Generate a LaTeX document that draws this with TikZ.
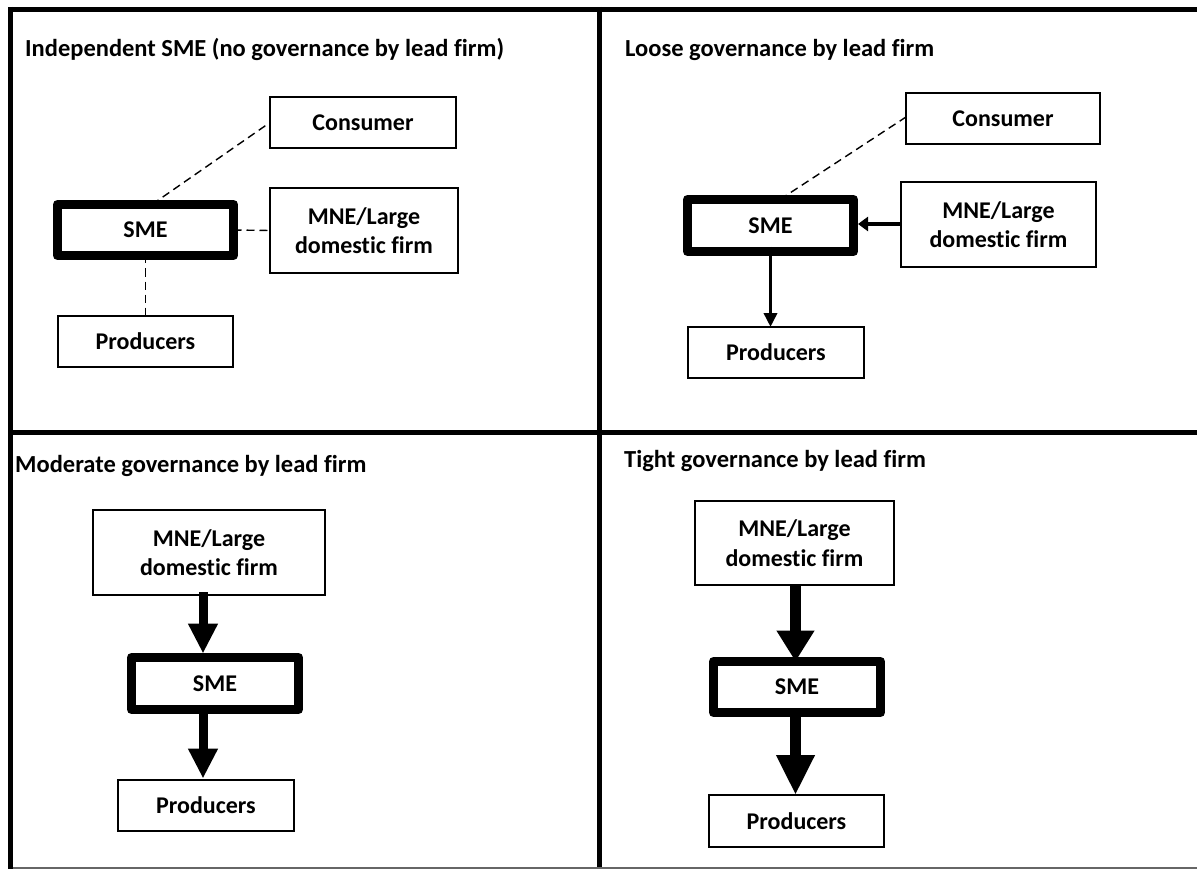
\documentclass[tikz,border=0pt]{standalone}
\usepackage{fontspec}
\setmainfont{Carlito}[Ligatures={NoCommon,NoDiscretionary,NoContextual}]
\usetikzlibrary{arrows.meta}
\begin{document}
\begin{tikzpicture}[x=1pt,y=-1pt,
  txt/.style={font=\fontsize{24}{29.5}\selectfont\bfseries},
  box/.style={txt, draw, line width=1.3pt, inner sep=0pt, outer sep=0pt, align=center},
  smebox/.style={txt, draw, line width=9pt, line join=round, inner sep=0pt, outer sep=0pt, minimum height=51pt},
  title/.style={anchor=base west, inner sep=0pt, font=\fontsize{24.5}{29.5}\selectfont\bfseries},
  framel/.style={line width=5pt},
  dashlink/.style={line width=1.4pt, dash pattern=on 8pt off 5pt},
  thinarrow/.style={line width=3.8pt},
  fatarrow/.style={line width=#1}
]
\useasboundingbox (0,0) rectangle (1197,869);
% frame
\draw[framel] (8,9.5) -- (1197,9.5);
\draw[framel] (10.5,7) -- (10.5,869);
\draw[framel] (10.5,432.5) -- (1197,432.5);
\draw[framel] (599.5,7) -- (599.5,869);
\draw[line width=1.5pt, black!60] (13,868.2) -- (1197,868.2);

% titles
\node[title] (t1) at (25,57) {Independent SME (no governance by lead firm)};
\node[title] (t2) at (625,57) {Loose governance by lead firm};
\node[title] (t3) at (15,472) {Moderate governance by lead firm};
\node[title] (t4) at (624,467.5) {Tight governance by lead firm};

% panel 1
\node[box, minimum width=186pt, minimum height=51pt] (cons1) at (363,122.5) {Consumer};
\node[box, minimum width=188pt, minimum height=85pt] (mne1) at (364,230.5) {MNE/Large\\domestic firm};
\node[smebox, minimum width=176pt] (sme1) at (145.5,230) {SME};
\node[box, minimum width=175pt, minimum height=51pt] (prod1) at (145.5,341.5) {Producers};
\draw[dashlink] ([xshift=6.5pt]sme1.north) -- (cons1.west);
\draw[dashlink] (sme1.east) -- (mne1.west);
\draw[dashlink] (sme1.south) -- (prod1.north);

% panel 2
\node[box, minimum width=194pt, minimum height=51pt] (cons2) at (1003,118.5) {Consumer};
\node[box, minimum width=195pt, minimum height=85pt] (mne2) at (998.5,224.5) {MNE/Large\\domestic firm};
\node[smebox, minimum width=166pt, minimum height=52pt] (sme2) at (770.5,225.5) {SME};
\node[box, minimum width=176pt, minimum height=51pt] (prod2) at (776,352.5) {Producers};
\draw[dashlink] ([xshift=9.5pt]sme2.north) -- ([yshift=1.5pt]cons2.west);
\draw[thinarrow, -{Triangle[length=10pt,width=14pt]}] (mne2.west |- 0,224) -- ([xshift=4.5pt]sme2.east |- 0,224);
\draw[thinarrow, -{Triangle[length=14pt,width=13pt]}] ([yshift=4.5pt]sme2.south) -- (sme2.south |- prod2.north);

% panel 3
\coordinate (ax3) at (203,0);
\node[box, minimum width=232pt, minimum height=85pt] (mne3) at (209,552.5) {MNE/Large\\domestic firm};
\node[smebox, minimum width=167pt, minimum height=52pt] (sme3) at (215,683.5) {SME};
\node[box, minimum width=176pt, minimum height=51pt] (prod3) at (206,805.5) {Producers};
\draw[fatarrow=9pt, -{Triangle[length=30pt,width=28pt]}] ([yshift=3pt]mne3.south -| ax3) -- ([yshift=4pt]sme3.north -| ax3);
\draw[fatarrow=9pt, -{Triangle[length=30pt,width=28pt]}] ([yshift=4.5pt]sme3.south -| ax3) -- ([yshift=1.5pt]prod3.north -| ax3);

% panel 4
\coordinate (ax4) at (795.5,0);
\node[box, minimum width=199pt, minimum height=84pt] (mne4) at (794.5,543) {MNE/Large\\domestic firm};
\node[smebox, minimum width=167pt, minimum height=51pt] (sme4) at (797,687) {SME};
\node[box, minimum width=175pt, minimum height=52pt] (prod4) at (796.5,821) {Producers};
\draw[fatarrow=11pt, -{Triangle[length=31pt,width=36pt]}] (mne4.south -| ax4) -- (sme4.north -| ax4);
\draw[fatarrow=11pt, -{Triangle[length=40pt,width=36pt]}] ([yshift=4.5pt]sme4.south -| ax4) -- (prod4.north -| ax4);
\end{tikzpicture}
\end{document}
